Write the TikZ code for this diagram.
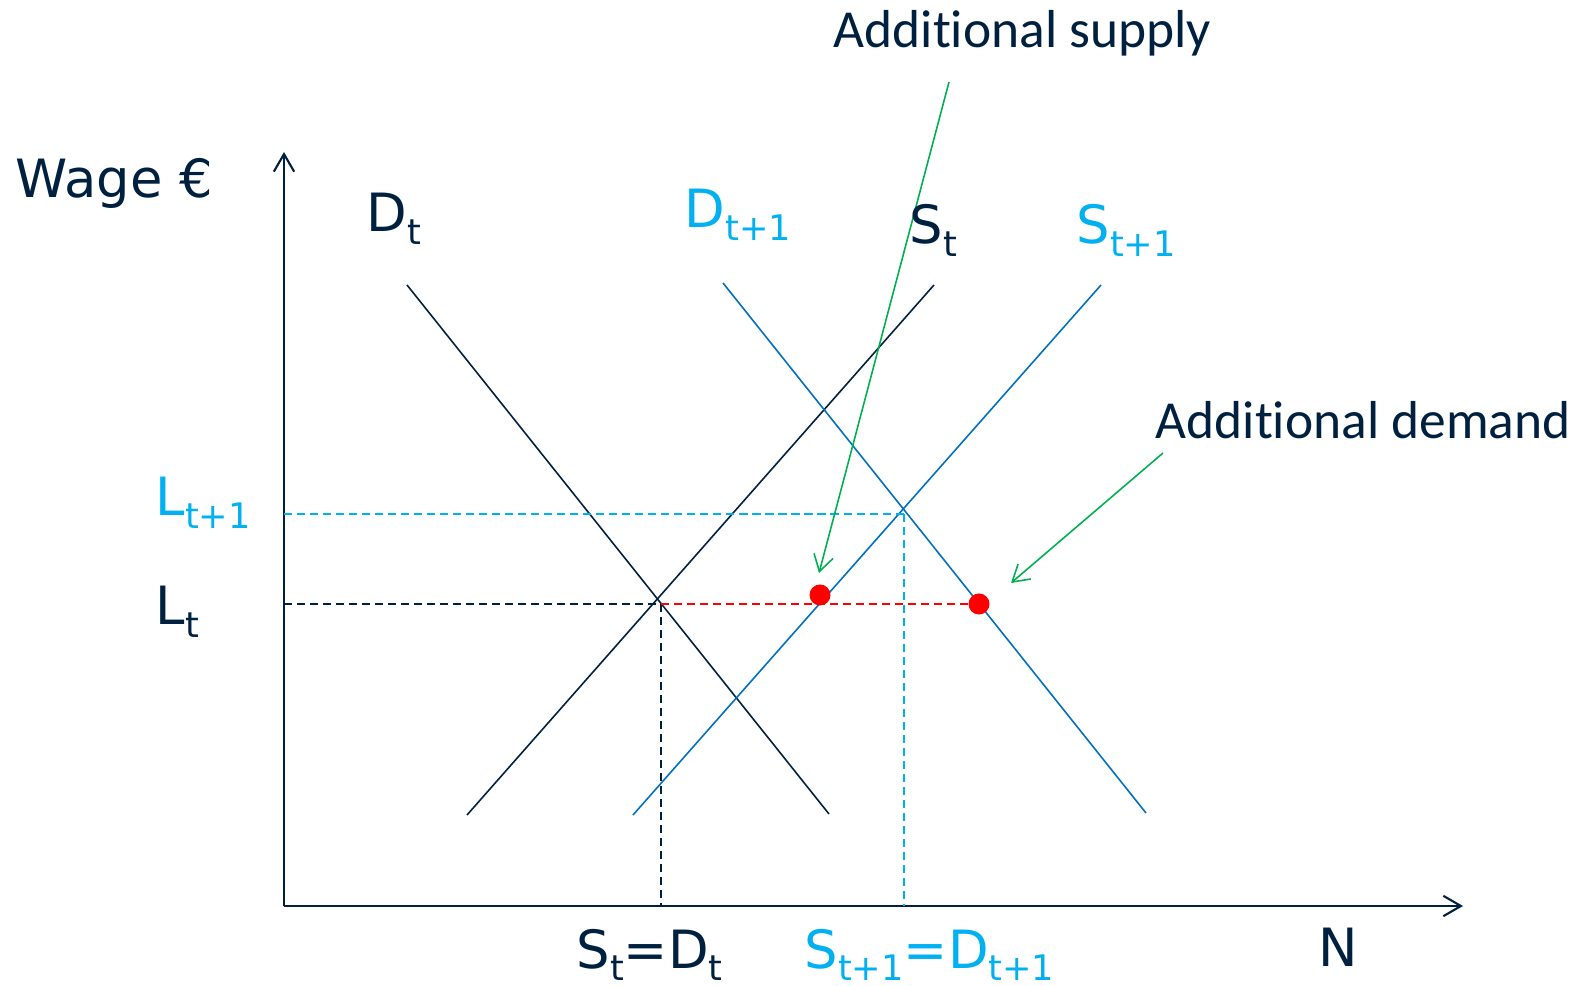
\documentclass[tikz,border=0pt]{standalone}
\usepackage{fontspec}
\setmainfont{DejaVu Sans}
\newfontfamily\calib[RawFeature={-liga;-clig;-dlig}]{Carlito}
\usetikzlibrary{arrows.meta}
\definecolor{navy}{HTML}{00203F}
\definecolor{lblue}{HTML}{00B0F0}
\definecolor{cblue}{HTML}{0070C0}
\definecolor{agreen}{HTML}{00B050}
\definecolor{dred}{HTML}{FF0000}
\newcommand{\sbx}[1]{\raisebox{-3.6pt}{\fontsize{10}{12}\selectfont #1}}
\begin{document}
\begin{tikzpicture}[x=0.01cm,y=-0.01cm,
  lbl/.style={anchor=base west,inner sep=0pt,font=\fontsize{15}{18}\selectfont},
  callout/.style={anchor=base west,inner sep=0pt,text=navy,font=\calib\fontsize{15.2}{18}\selectfont},
  axis/.style={draw=navy,line width=0.6pt,-{Straight Barb[length=5pt,width=5.8pt,line width=0.6pt]}},
  curve/.style={line width=0.45pt},
  dsh/.style={line width=0.5pt,dash pattern=on 2.3pt off 1.4pt},
  garrow/.style={draw=agreen,line width=0.45pt,-{Straight Barb[length=4.6pt,width=5.6pt,line width=0.45pt]}},
  dot/.style={circle,fill=dred,inner sep=0pt,minimum size=2.1mm}]
\useasboundingbox (0,0) rectangle (1579,986);

% axes
\coordinate (O) at (284,906);
\coordinate (ytop) at (284,152);
\coordinate (xend) at (1463,906);
\draw[axis] (O) -- (ytop);
\draw[axis] (O) -- (xend);

% curves
\coordinate (Dt1) at (407,285); \coordinate (Dt2) at (829,814);
\coordinate (St1) at (467,815); \coordinate (St2) at (934,285);
\coordinate (Dn1) at (723,283); \coordinate (Dn2) at (1146,813);
\coordinate (Sn1) at (633,815); \coordinate (Sn2) at (1101,285);
\draw[curve,navy] (Dt1) -- (Dt2);
\draw[curve,navy] (St1) -- (St2);
\draw[curve,cblue] (Dn1) -- (Dn2);
\draw[curve,cblue] (Sn1) -- (Sn2);

% guide points
\coordinate (E0) at (661,604);
\coordinate (E1) at (904,514);
\coordinate (E0y) at (O |- E0);
\coordinate (E0x) at (E0 |- O);
\coordinate (E1y) at (O |- E1);
\coordinate (E1x) at (E1 |- O);

% dots
\node[dot] (d1) at (820,595) {};
\node[dot] (d2) at (979,604) {};

% dashed guides
\draw[dsh,lblue] (E1y) -- (E1);
\draw[dsh,lblue] (E1) -- (E1x);
\draw[dsh,navy] (E0y) -- (E0);
\draw[dsh,navy] (E0) -- (E0x);
\draw[dsh,dred] (E0) -- (d2.center);

% callout arrows
\coordinate (sa) at (949,82);
\coordinate (sb) at (819,573);
\coordinate (da) at (1163,453);
\coordinate (db) at (1011,583);
\draw[garrow] (sa) -- (sb);
\draw[garrow] (da) -- (db);

% labels
\node[lbl,text=navy] (wage) at (15,198) {Wage €};
\node[lbl,text=navy] (lDt) at (366,232) {D\sbx{t}};
\node[lbl,text=lblue] (lDn) at (684,228) {D\sbx{t+1}};
\node[lbl,text=navy] (lSt) at (909,244) {S\sbx{t}};
\node[lbl,text=lblue] (lSn) at (1076,244) {S\sbx{t+1}};
\node[lbl,text=lblue] (lLn) at (155,516) {L\sbx{t+1}};
\node[lbl,text=navy] (lLt) at (155,625) {L\sbx{t}};
\node[lbl,text=navy] (lE0) at (576,968) {S\sbx{t}=D\sbx{t}};
\node[lbl,text=lblue] (lE1) at (804,968) {S\sbx{t+1}=D\sbx{t+1}};
\node[lbl,text=navy] (lN) at (1318,966) {N};
\node[callout] (asup) at (833,48) {Addit\kern0pt ional supply};
\node[callout] (adem) at (1155,439) {Addit\kern0pt ional demand};
\end{tikzpicture}
\end{document}
